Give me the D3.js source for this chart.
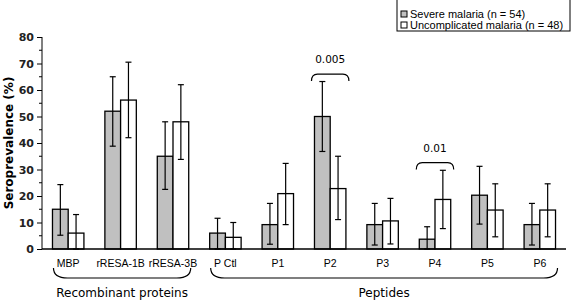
<!DOCTYPE html>
<html>
<head>
<meta charset="utf-8">
<script src="https://cdn.jsdelivr.net/npm/d3@7"></script>
<style>
  body { margin: 0; background: #fff; }
  svg { display: block; font-family: "DejaVu Sans", Verdana, sans-serif; }
</style>
</head>
<body>
<div class="chart"></div>
<script>
'use strict';

// categories and series
var categories = ['MBP', 'rRESA-1B', 'rRESA-3B', 'P Ctl', 'P1', 'P2', 'P3', 'P4', 'P5', 'P6'];
var seriesNames = ['Severe malaria (n = 54)', 'Uncomplicated malaria (n = 48)'];
var severe = [15, 52, 35, 6, 9.2, 50, 9.2, 3.7, 20.3, 9.2];
var severeLow = [5.2, 38.8, 22.5, 0, 1.8, 36.8, 1.5, 0, 9.4, 1.5];
var severeHigh = [24.3, 65, 48, 11.6, 17.2, 63.2, 17.2, 8.4, 31.2, 17.2];
var uncompl = [6, 56.2, 48, 4.4, 20.9, 22.8, 10.6, 18.7, 14.7, 14.7];
var uncomplLow = [0, 42, 33.8, 0, 9.2, 11.1, 1.9, 7.7, 4.6, 4.6];
var uncomplHigh = [13, 70.5, 62, 10, 32.3, 35, 19.1, 29.7, 24.6, 24.6];
var yTicks = [0, 10, 20, 30, 40, 50, 60, 70, 80];

// significance brackets
var sigCategories = ['P2', 'P4'];
var sigLabels = ['0.005', '0.01'];
var sigLevels = [66, 32.6];

// category groups shown with braces
var groupNames = ['Recombinant proteins', 'Peptides'];
var groupFirst = ['MBP', 'P Ctl'];
var groupLast = ['rRESA-3B', 'P6'];

var width = 572,
    height = 301,
    colors = ['#c0c0c0', '#ffffff'],
    narrow = '"Liberation Sans", Arial, sans-serif';

var svg = d3.select('.chart').append('svg').attr('width', width).attr('height', height);

var x = d3.scaleBand().domain(categories).range([42, 566]).paddingInner(0.4).paddingOuter(0.2),
    xs = d3.scaleBand().domain([0, 1]).range([0, x.bandwidth()]),
    y = d3.scaleLinear().domain([0, 80]).range([249, 37]);

var rows = [];
categories.forEach(function (c, i) {
  rows.push({cat: c, s: 0, v: severe[i], lo: severeLow[i], hi: severeHigh[i]});
  rows.push({cat: c, s: 1, v: uncompl[i], lo: uncomplLow[i], hi: uncomplHigh[i]});
});

// bars
svg.append('g').selectAll('rect').data(rows).enter().append('rect')
  .attr('x', function (d) { return x(d.cat) + xs(d.s); })
  .attr('y', function (d) { return y(d.v); })
  .attr('width', xs.bandwidth())
  .attr('height', function (d) { return y(0) - y(d.v); })
  .attr('fill', function (d) { return colors[d.s]; })
  .attr('stroke', '#000')
  .attr('stroke-width', 1.3);

// error bars
var err = svg.append('g').attr('stroke', '#000').attr('stroke-width', 1.2);
rows.forEach(function (d) {
  var cx = x(d.cat) + xs(d.s) + xs.bandwidth() / 2;
  err.append('line').attr('x1', cx).attr('x2', cx).attr('y1', y(d.lo)).attr('y2', y(d.hi));
  err.append('line').attr('x1', cx - 3).attr('x2', cx + 3).attr('y1', y(d.hi)).attr('y2', y(d.hi));
  err.append('line').attr('x1', cx - 3).attr('x2', cx + 3).attr('y1', y(d.lo)).attr('y2', y(d.lo));
});

// y axis
var yAxis = svg.append('g').attr('transform', 'translate(42,0)')
  .call(d3.axisLeft(y).tickValues(yTicks).tickSize(5).tickPadding(3));
yAxis.append('g').selectAll('line').data(d3.range(5, 80, 10)).enter().append('line')
  .attr('x1', -3).attr('x2', 0).attr('y1', function (d) { return y(d); }).attr('y2', function (d) { return y(d); })
  .attr('stroke', '#000');
yAxis.select('.domain').attr('d', 'M0,' + y(80) + 'V' + y(0));
yAxis.selectAll('text').attr('font-size', 11).attr('font-weight', 'bold').attr('fill', '#222')
  .attr('font-family', '"DejaVu Sans", sans-serif');

svg.append('text')
  .attr('transform', 'translate(13,' + y(40) + ') rotate(-90)')
  .attr('text-anchor', 'middle')
  .attr('font-size', 12).attr('font-weight', 'bold')
  .text('Seroprevalence (%)');

// x axis baseline and labels
svg.append('line').attr('x1', 42).attr('x2', 566).attr('y1', y(0)).attr('y2', y(0))
  .attr('stroke', '#000').attr('stroke-width', 1.3);
svg.append('g').selectAll('text').data(categories).enter().append('text')
  .attr('x', function (d) { return x(d) + x.bandwidth() / 2; })
  .attr('y', 267)
  .attr('text-anchor', 'middle')
  .attr('font-size', 10.5)
  .attr('font-family', narrow)
  .text(function (d) { return d; });

// braces for groups
var braces = svg.append('g');
groupNames.forEach(function (name, i) {
  var x0 = x(groupFirst[i]) + 1,
      x1 = x(groupLast[i]) + x.bandwidth() + 2,
      top = 268, bot = 278;
  braces.append('path')
    .attr('d', 'M' + x0 + ',' + top + 'Q' + x0 + ',' + bot + ' ' + (x0 + 14) + ',' + bot +
      'H' + (x1 - 14) + 'Q' + x1 + ',' + bot + ' ' + x1 + ',' + top)
    .attr('fill', 'none').attr('stroke', '#000').attr('stroke-width', 1.2);
  braces.append('text')
    .attr('x', (x0 + x1) / 2).attr('y', 297)
    .attr('text-anchor', 'middle').attr('font-size', 12)
    .text(name);
});

// significance brackets
sigCategories.forEach(function (c, i) {
  var x0 = x(c) - 3, x1 = x(c) + x.bandwidth() + 3, ly = y(sigLevels[i]);
  svg.append('path')
    .attr('d', 'M' + x0 + ',' + (ly + 7) + 'Q' + x0 + ',' + ly + ' ' + (x0 + 6) + ',' + ly +
      'H' + (x1 - 6) + 'Q' + x1 + ',' + ly + ' ' + x1 + ',' + (ly + 7))
    .attr('fill', 'none').attr('stroke', '#000').attr('stroke-width', 1.2);
  svg.append('text')
    .attr('x', (x0 + x1) / 2).attr('y', ly - 11)
    .attr('text-anchor', 'middle').attr('font-size', 10.5)
    .text(sigLabels[i]);
});

// legend
var legend = svg.append('g').attr('transform', 'translate(397,0)');
legend.append('rect').attr('x', 0).attr('y', -1).attr('width', 173).attr('height', 32)
  .attr('fill', '#fff').attr('stroke', '#000').attr('stroke-width', 1);
seriesNames.forEach(function (n, i) {
  var ry = 14 + i * 11;
  legend.append('rect').attr('x', 4).attr('y', ry - 3).attr('width', 6).attr('height', 6)
    .attr('fill', colors[i]).attr('stroke', '#000').attr('stroke-width', 1);
  legend.append('text').attr('x', 13).attr('y', ry + 4).attr('font-size', 11)
    .attr('font-family', narrow)
    .text(n);
});
</script>
</body>
</html>
